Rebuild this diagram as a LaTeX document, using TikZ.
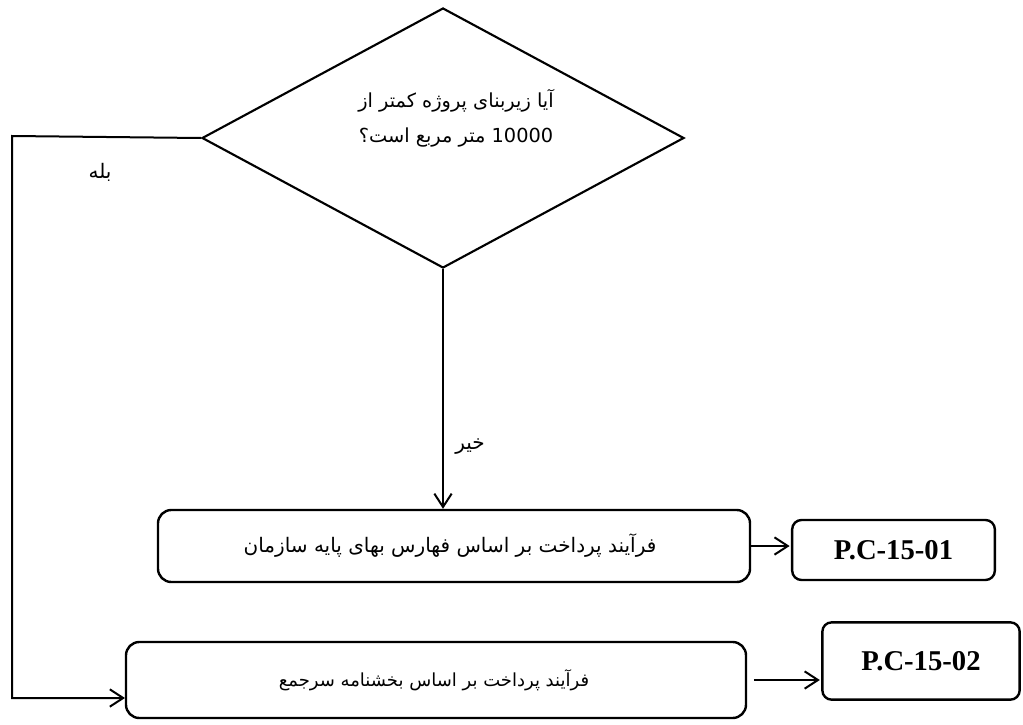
\documentclass[tikz,border=0pt]{standalone}
\usepackage{fontspec}
\setmainfont{Liberation Serif}
\newfontfamily\arabicfont[Script=Arabic]{DejaVu Sans}
\TeXXeTstate=1
\usetikzlibrary{shapes.geometric,arrows.meta}
\begin{document}
\begin{tikzpicture}[x=0.75pt,y=-0.75pt,
  arr/.style={line width=1.5pt,-{Straight Barb[length=10pt,width=13pt,line width=1.5pt]}},
  procbox/.style={draw,line width=1.8pt,rounded corners=10pt,inner sep=0pt},
  codebox/.style={draw,line width=1.8pt,rounded corners=7pt,inner sep=0pt,font=\fontsize{21.5}{24}\selectfont\bfseries},
  fa/.style={font=\arabicfont\fontsize{14}{17}\selectfont}]
\useasboundingbox (0,0) rectangle (1023,724);
% decision
\node[diamond,draw,line width=1.6pt,inner sep=0pt,minimum width=361.5pt,minimum height=195pt] (q) at (443,138) {};
\node[fa,font=\arabicfont\fontsize{14.5}{17}\selectfont,align=center] (qt) at (456,118) {\beginR آیا زیربنای پروژه کمتر از\endR\\[9pt]\beginR 10000 متر مربع است؟\endR};
% process boxes
\node[procbox,minimum width=444pt,minimum height=54pt] (p1) at (454,546) {};
\node[fa,font=\arabicfont\fontsize{15}{18}\selectfont] (p1t) at (450,546) {\beginR فرآیند پرداخت بر اساس فهارس بهای پایه سازمان\endR};
\node[procbox,minimum width=465pt,minimum height=57pt] (p2) at (436,680) {};
\node[fa,font=\arabicfont\fontsize{13.5}{16}\selectfont] (p2t) at (434,680) {\beginR فرآیند پرداخت بر اساس بخشنامه سرجمع\endR};
% code boxes
\node[codebox,minimum width=152pt,minimum height=45pt] (c1) at (893.5,550) {P.C-15-01};
\node[codebox,minimum width=148pt,minimum height=58pt] (c2) at (921,661) {P.C-15-02};
% connectors
\coordinate (l1) at (12,136);
\coordinate (l2) at (12,698);
\coordinate (e2) at (125,698);
\draw[arr] (q.west) -- (l1) -- (l2) -- (e2);
\draw[arr] (q.south) -- (q.south|-p1.north);
\draw[arr] (p1.east) -- ([xshift=-1pt]c1.west|-p1.east);
\draw[arr] ([xshift=5pt]p2.east) -- ([xshift=-1pt]c2.west|-p2.east);
% labels
\node[fa,font=\arabicfont\fontsize{15}{18}\selectfont] (yes) at (100,172) {\beginR بله\endR};
\node[fa,font=\arabicfont\fontsize{15}{18}\selectfont] (no) at (470,447) {\beginR خیر\endR};
\end{tikzpicture}
\end{document}
